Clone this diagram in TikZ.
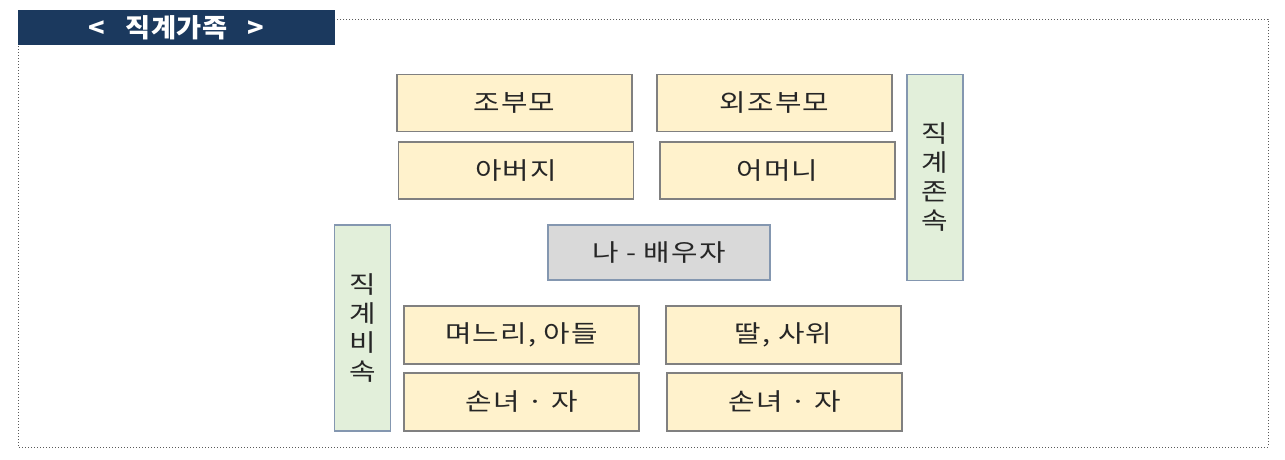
\documentclass[tikz,border=0pt]{standalone}
\usepackage{fontspec}
\usepackage{xcolor}
\usepackage{tikz}
\usetikzlibrary{positioning}
\setmainfont{Noto Sans CJK KR}
\definecolor{kinnavy}{RGB}{27,57,94}
\definecolor{kinyellow}{RGB}{255,242,204}
\definecolor{kingreen}{RGB}{226,239,218}
\definecolor{kingray}{RGB}{217,217,217}
\definecolor{kinedge}{RGB}{128,128,128}
\definecolor{kinblue}{RGB}{132,151,176}
\definecolor{kintext}{RGB}{38,38,38}
\begin{document}
\begin{tikzpicture}[x=1pt,y=-1pt,every node/.style={font=\fontsize{24}{30}\selectfont\addfontfeature{FakeStretch=1.2,LetterSpace=5},text=kintext,inner sep=0pt},
  relbox/.style={draw=kinedge,line width=1.2pt,fill=kinyellow,minimum width=235pt,minimum height=57pt},
  linebox/.style={draw=kinblue,line width=1.2pt,fill=kingreen,minimum width=56pt,minimum height=206pt,align=center,font=\fontsize{24}{29}\selectfont\addfontfeature{FakeStretch=1.2}},
  selfbox/.style={draw=kinblue,line width=1.2pt,fill=kingray,minimum width=222pt,minimum height=55pt}]
\useasboundingbox (0,0) rectangle (1285,459);
\draw[kinedge!70!black,dotted,line width=1pt] (18,19) rectangle (1268,447);
\node[fill=kinnavy,minimum width=317pt,minimum height=35pt,text=white,font=\fontsize{26}{30}\selectfont\bfseries\addfontfeature{FakeStretch=1.05,LetterSpace=2}] (title) at (176.5,27.5) {<\ \ \ 직계가족\ \ \ >};
% ascendants
\node[relbox] (grandpa) at (514.5,103) {조부모};
\node[relbox] (grandma) at (774.5,103) {외조부모};
\node[relbox] (father) at (516,170.5) {아버지};
\node[relbox] (mother) at (777.5,170.5) {어머니};
\node[linebox] (upline) at (935,177.5) {직\\계\\존\\속};
% self
\node[selfbox] (self) at (659,252.5) {나 - 배우자};
% descendants
\node[linebox] (downline) at (362.5,328) {직\\계\\비\\속};
\node[relbox,minimum height=58pt] (son) at (521.5,335) {며느리, 아들};
\node[relbox,minimum height=58pt] (daughter) at (783.5,335) {딸, 사위};
\node[relbox,minimum height=58pt] (grandkid) at (521.5,402) {손녀 · 자};
\node[relbox,minimum height=58pt] (grandkid2) at (784.5,402) {손녀 · 자};
\end{tikzpicture}
\end{document}
